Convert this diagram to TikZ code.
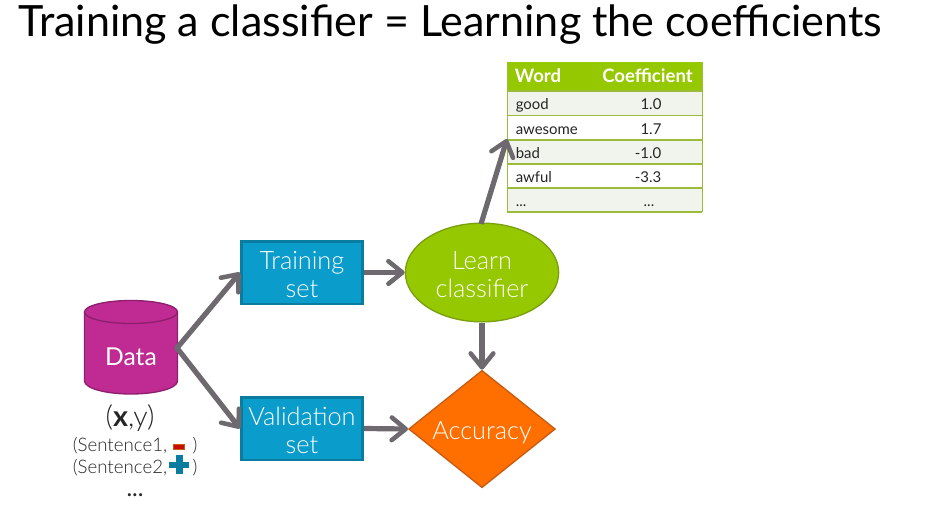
\documentclass[tikz,border=0pt]{standalone}
\usepackage{fontspec}
\setmainfont{Lato Light}[BoldFont=Lato Bold]
\newfontfamily\regfont{Lato}
\usetikzlibrary{arrows.meta,shapes.geometric}
\definecolor{flow}{HTML}{6E696E}
\definecolor{boxblue}{HTML}{0A9CCB}
\definecolor{boxedge}{HTML}{0A7CA0}
\definecolor{leaf}{HTML}{96C800}
\definecolor{leafedge}{HTML}{7AA010}
\definecolor{orng}{HTML}{FF6F00}
\definecolor{orngedge}{HTML}{C85A10}
\definecolor{mag}{HTML}{BF2A93}
\definecolor{magedge}{HTML}{8E1F6E}
\definecolor{rowtint}{HTML}{F0F4EC}
\definecolor{rowline}{HTML}{9BBB3C}
\newcommand{\dropa}{\rule{0pt}{17pt}}
\newcommand{\dropb}{\rule{0pt}{19.5pt}}
\tikzset{
  x=0.75pt,y=-0.75pt,
  flowarrow/.style={draw=flow,line width=3.9pt,-{Straight Barb[length=10.5pt,width=17pt,line width=3.4pt,round]}},
  procbox/.style={rectangle,draw=boxedge,fill=boxblue,line width=2pt,minimum width=91pt,minimum height=47pt,inner sep=0pt,text=white,align=center,font=\fontsize{19}{21}\selectfont},
  learnnode/.style={ellipse,draw=leafedge,fill=leaf,line width=1pt,minimum width=115pt,minimum height=74pt,inner sep=0pt,text=white,align=center,font=\fontsize{19}{21}\selectfont},
  accnode/.style={diamond,draw=orngedge,fill=orng,line width=1pt,minimum width=110pt,minimum height=88pt,inner sep=0pt,aspect=1.25,text=white,font=\fontsize{19}{21}\selectfont},
  cell/.style={anchor=mid west,inner sep=0pt,font=\regfont\fontsize{11.2}{13}\selectfont,text=black!85},
  numcell/.style={anchor=mid,inner sep=0pt,font=\regfont\fontsize{11.2}{13}\selectfont,text=black!85},
  headcell/.style={anchor=mid,inner sep=0pt,text=white,font=\fontsize{13.9}{15}\bfseries\selectfont},
  caption/.style={inner sep=0pt,text=black!85,font=\fontsize{14}{16}\selectfont},
}
\begin{document}
\begin{tikzpicture}
\useasboundingbox (0,0) rectangle (940,508);
\fill[white] (0,0) rectangle (940,508);
\node[inner sep=0pt,anchor=mid west,font=\regfont\fontsize{32.3}{36}\selectfont] (title) at (18,33) {Training a classifier = Learning the coefficients};
% table
\fill[leaf] (507,62) rectangle (702,91);
\fill[rowtint] (507,91) rectangle (702,115.5);
\fill[rowtint] (507,140) rectangle (702,164);
\fill[rowtint] (507,188) rectangle (702,212);
\foreach \yy in {91,115.5,140,164,188,212}
  \draw[rowline,line width=.9pt] (507,\yy) -- (702,\yy);
\draw[rowline,line width=.6pt] (507,62) -- (507,212);
\draw[rowline,line width=.6pt] (702,62) -- (702,212);
\node[headcell] (hword) at (538,79.5) {Word};
\node[headcell] (hcoef) at (647.5,79.5) {Coefficient};
\node[cell] (w1) at (515.5,106.5) {good};
\node[numcell] (c1) at (651,106.5) {1.0};
\node[cell] (w2) at (515.5,131.5) {awesome};
\node[numcell] (c2) at (651,131.5) {1.7};
\node[cell] (w3) at (515.5,155.5) {bad};
\node[numcell] (c3) at (648,155.5) {-1.0};
\node[cell] (w4) at (515.5,179.5) {awful};
\node[numcell] (c4) at (648,179.5) {-3.3};
\node[cell] (w5) at (515.5,203.5) {...};
\node[numcell] (c5) at (649,203.5) {...};
\coordinate (tabin) at (507,139);
% data cylinder
\draw[magedge,line width=1pt,fill=mag] (84.5,312) -- (84.5,381) arc[start angle=180,end angle=0,x radius=46.5,y radius=13] -- (177.5,312) arc[start angle=0,end angle=-180,x radius=46.5,y radius=11.5] -- cycle;
\draw[magedge,line width=1pt] (84.5,312) arc[start angle=180,end angle=0,x radius=46.5,y radius=11.5];
\node[inner sep=0pt,text=white,font=\regfont\fontsize{18.5}{20}\selectfont] (data) at (131,357) {Data};
\coordinate (dataout) at (177,348);
% main nodes
\node[procbox] (train) at (302,272.5) {\dropa Training\\set};
\node[procbox] (valid) at (302,428.5) {\dropa Validation\\set};
\node[learnnode] (learn) at (482,272.5) {\dropa Learn\\classifier};
\node[accnode] (acc) at (482,429) {\dropb Accuracy};
% connectors
\draw[flowarrow,shorten <=-1pt] (dataout) -- (train.west);
\draw[flowarrow,shorten <=-1pt] (dataout) -- (valid.west);
\draw[flowarrow] (train.east) -- (learn.west);
\draw[flowarrow] (valid.east) -- (acc.west);
\draw[flowarrow] (learn.south) -- (acc.north);
\draw[flowarrow] (481,224) -- (tabin);
% captions
\node[inner sep=0pt,text=black!85,font=\fontsize{21.5}{24}\selectfont] (xy) at (130,418) {(\textbf{x},y)};
\node[caption] (s1) at (120,446) {(Sentence1,};
\node[caption] (s1c) at (195,446) {)};
\node[caption] (s2) at (120,468) {(Sentence2,};
\node[caption] (s2c) at (195,468) {)};
\node[caption,font=\regfont\fontsize{18}{20}\selectfont] (dots) at (135,495) {...};
\fill[red!75!black!90!orange,draw=orngedge,line width=.3pt] (173.5,444.5) rectangle (184.5,449.5);
\fill[boxedge] (176,455) rectangle (183,474);
\fill[boxedge] (169,462) rectangle (189,468);
\end{tikzpicture}
\end{document}
